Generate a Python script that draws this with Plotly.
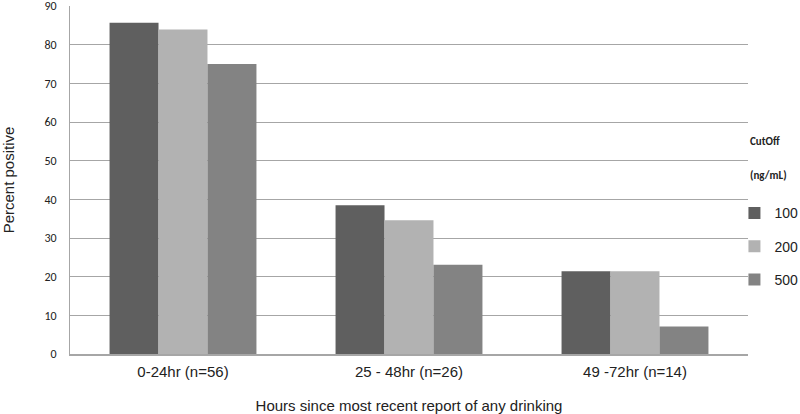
import plotly.graph_objects as go

categories = ["0-24hr (n=56)", "25 - 48hr (n=26)", "49 -72hr (n=14)"]
series_names = ["100", "200", "500"]
vals_100 = [85.7, 38.5, 21.4]
vals_200 = [83.9, 34.6, 21.4]
vals_500 = [75.0, 23.1, 7.1]
colors = ["#5f5f5f", "#b2b2b2", "#838383"]
y_ticks = [0, 10, 20, 30, 40, 50, 60, 70, 80, 90]

fig = go.Figure()
for name, vals, c in zip(series_names, [vals_100, vals_200, vals_500], colors):
    fig.add_trace(go.Bar(x=categories, y=vals, name=name, marker_color=c,
                         marker_line_width=0, legendgroup=name))

fig.update_layout(
    width=800, height=414,
    margin=dict(l=70, r=52, t=6, b=60, autoexpand=False),
    plot_bgcolor="white", paper_bgcolor="white",
    barmode="group", bargap=0.35, bargroupgap=0,
    font=dict(family="Liberation Sans", color="#222"),
    xaxis=dict(showline=True, linecolor="#a6a6a6", linewidth=2, ticks="",
               tickfont=dict(size=15, color="#222"), showgrid=False, automargin=False,
               ticklabelstandoff=3,
               title=dict(text="Hours since most recent report of any drinking",
                          font=dict(size=15, color="#222"), standoff=22)),
    yaxis=dict(range=[0, 90], tickvals=y_ticks, showline=True, linecolor="#a6a6a6",
               linewidth=1, gridcolor="#a6a6a6", gridwidth=1, ticks="", automargin=False,
               ticklabeloverflow="allow", ticklabelstandoff=10,
               tickfont=dict(size=12, family="Carlito, Liberation Sans", color="#222"),
               title=dict(text="Percent positive", font=dict(size=15, color="#222"),
                          standoff=36)),
    legend=dict(x=0.98, xanchor="left", y=0.45, yanchor="top",
                font=dict(size=14, color="#222"),
                traceorder="grouped", tracegroupgap=12, itemwidth=30,
                bgcolor="rgba(0,0,0,0)"),
    showlegend=True,
)
fig.add_annotation(x=1.0, xref="paper", y=0.611, yref="paper", xanchor="left",
                   text="<b>CutOff</b>", showarrow=False,
                   font=dict(size=11, family="Carlito, Liberation Sans", color="#222"))
fig.add_annotation(x=1.0, xref="paper", y=0.514, yref="paper", xanchor="left",
                   text="<b>(ng/mL)</b>", showarrow=False,
                   font=dict(size=11, family="Carlito, Liberation Sans", color="#222"))
fig.write_html("out.html", config={"displayModeBar": False},
               post_script="document.body.style.margin='0';document.body.style.overflow='hidden';")
